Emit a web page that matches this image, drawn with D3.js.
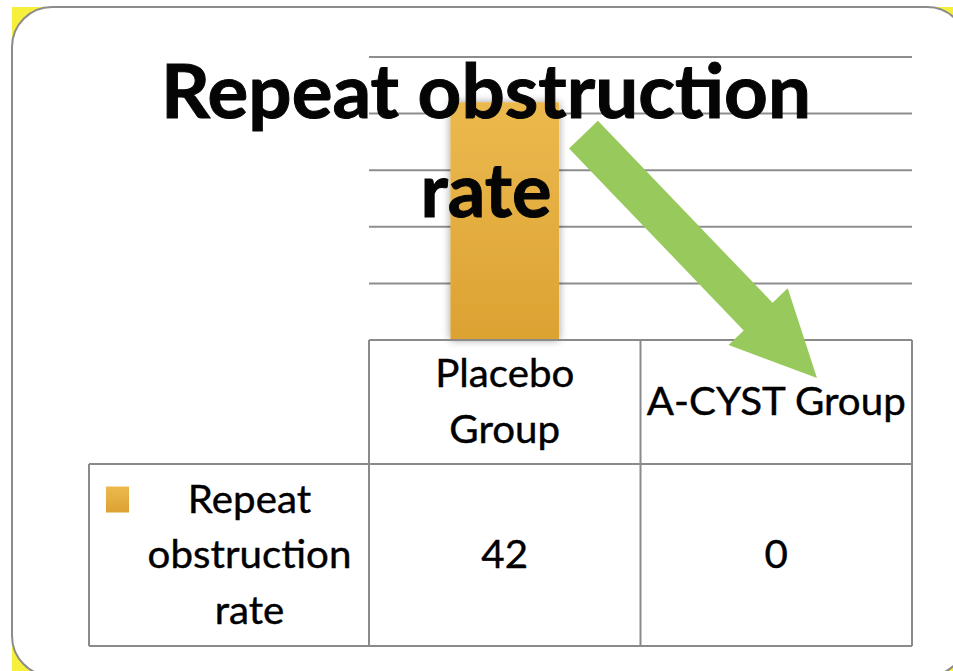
<!DOCTYPE html>
<html lang="en">
<head>
    <meta charset="UTF-8">
    <title>Repeat obstruction rate</title>
    <script src="https://d3js.org/d3.v7.min.js"></script>
    <style>
        body {
            margin: 0;
            padding: 0;
            background: #fff;
        }
        svg {
            display: block;
        }
        .grid line {
            stroke: #8e8e8e;
            stroke-width: 2px;
        }
        .table-line {
            stroke: #8a8a8a;
            stroke-width: 2px;
        }
        .cell-text {
            font-family: 'Lato', sans-serif;
            font-size: 38px;
            fill: #000;
            stroke: #000;
            stroke-width: 0.4px;
        }
        .title {
            font-family: 'Lato', sans-serif;
            font-weight: 700;
            font-size: 74px;
            fill: #050505;
            stroke: #050505;
            stroke-width: 1px;
        }
    </style>
</head>
<body>
    <svg width="953" height="671"></svg>
    <script>
        // chart data
        const titleLines = ["Repeat obstruction", "rate"];
        const categories = ["Placebo Group", "A-CYST Group"];
        const categoryLines = [["Placebo", "Group"], ["A-CYST Group"]];
        const seriesName = "Repeat obstruction rate";
        const seriesLines = ["Repeat", "obstruction", "rate"];
        const values = [42, 0];
        const yTicks = [0, 10, 20, 30, 40, 50];

        const width = 953, height = 671;
        const svg = d3.select("svg");
        const defs = svg.append("defs");

        // slide frame with yellow corners
        svg.append("rect")
            .attr("x", 12).attr("y", 7)
            .attr("width", 955).attr("height", 669)
            .attr("fill", "#f6ef3c");
        svg.append("rect")
            .attr("x", 12).attr("y", 7)
            .attr("width", 955).attr("height", 669)
            .attr("rx", 40).attr("ry", 40)
            .attr("fill", "#fff")
            .attr("stroke", "#8c8c8c")
            .attr("stroke-width", 2);

        // plot area (Excel-style chart with data table)
        const plot = { left: 369, right: 912, top: 57, bottom: 340 };
        const table = { left: 89, headerBottom: 464, bottom: 646 };

        const x = d3.scaleBand()
            .domain(categories)
            .range([plot.left, plot.right])
            .padding(0);

        const y = d3.scaleLinear()
            .domain([0, d3.max(yTicks)])
            .range([plot.bottom, plot.top]);

        // gridlines
        svg.append("g")
            .attr("class", "grid")
            .selectAll("line")
            .data(yTicks.filter(t => t > 0))
            .join("line")
            .attr("x1", plot.left)
            .attr("x2", plot.right)
            .attr("y1", d => y(d))
            .attr("y2", d => y(d));

        // bar gradient and shadow
        const grad = defs.append("linearGradient")
            .attr("id", "barGrad")
            .attr("x1", 0).attr("y1", 0).attr("x2", 0).attr("y2", 1);
        grad.append("stop").attr("offset", "0%").attr("stop-color", "#ecb94e");
        grad.append("stop").attr("offset", "100%").attr("stop-color", "#dca232");

        const shadow = defs.append("filter")
            .attr("id", "barShadow")
            .attr("x", "-30%").attr("y", "-10%")
            .attr("width", "160%").attr("height", "120%");
        shadow.append("feGaussianBlur")
            .attr("in", "SourceAlpha")
            .attr("stdDeviation", 4)
            .attr("result", "blur");
        shadow.append("feComponentTransfer")
            .append("feFuncA").attr("type", "linear").attr("slope", 0.4);
        const merge = shadow.append("feMerge");
        merge.append("feMergeNode");
        merge.append("feMergeNode").attr("in", "SourceGraphic");

        const barW = x.bandwidth() * 0.4;
        svg.append("g")
            .selectAll("rect")
            .data(values)
            .join("rect")
            .attr("x", (d, i) => x(categories[i]) + (x.bandwidth() - barW) / 2)
            .attr("y", d => y(d))
            .attr("width", barW)
            .attr("height", d => y(0) - y(d))
            .attr("fill", "url(#barGrad)")
            .attr("filter", d => d > 0 ? "url(#barShadow)" : null);

        // data table
        const tl = svg.append("g");
        const hline = (x1, x2, yy) => tl.append("line").attr("class", "table-line")
            .attr("x1", x1).attr("x2", x2).attr("y1", yy).attr("y2", yy);
        const vline = (xx, y1, y2) => tl.append("line").attr("class", "table-line")
            .attr("x1", xx).attr("x2", xx).attr("y1", y1).attr("y2", y2);

        hline(plot.left, plot.right, plot.bottom);
        hline(table.left, plot.right, table.headerBottom);
        hline(table.left, plot.right, table.bottom);
        vline(table.left, table.headerBottom, table.bottom);
        categories.forEach(c => vline(x(c), plot.bottom, table.bottom));
        vline(plot.right, plot.bottom, table.bottom);

        // green annotation arrow, placed from the placebo band down into the A-CYST header
        const arrowStart = [x(categories[0]) + x.bandwidth() * 0.79, y(36.3)];
        const arrowTip = [x(categories[1]) + x.bandwidth() * 0.65, y(0) + 38];
        const dx = arrowTip[0] - arrowStart[0], dy = arrowTip[1] - arrowStart[1];
        const len = Math.hypot(dx, dy);
        const ang = Math.atan2(dy, dx) * 180 / Math.PI;
        const shaftHalf = 20, headHalf = 41, headLen = 85;
        const arrowPts = [
            [0, -shaftHalf], [len - headLen, -shaftHalf], [len - headLen, -headHalf],
            [len, 0],
            [len - headLen, headHalf], [len - headLen, shaftHalf], [0, shaftHalf]
        ];
        svg.append("path")
            .attr("transform", `translate(${arrowStart[0]},${arrowStart[1]}) rotate(${ang})`)
            .attr("d", d3.line()(arrowPts) + "Z")
            .attr("fill", "#98c95c");

        // table text, slightly stretched like the source rendering
        const stretch = 1.06;
        function addText(str, cx, baseline, cls) {
            const t = svg.append("text")
                .attr("class", cls)
                .attr("x", cx)
                .attr("y", baseline)
                .attr("text-anchor", "middle")
                .text(str);
            return t;
        }
        function stretchText(t, k) {
            const w = t.node().getComputedTextLength();
            t.attr("textLength", w * k).attr("lengthAdjust", "spacingAndGlyphs");
        }

        const lineGap = 56, capHalf = 13;
        const headerMid = (plot.bottom + table.headerBottom) / 2;
        const rowMid = (table.headerBottom + table.bottom) / 2;

        categoryLines.forEach((lines, i) => {
            const cx = x(categories[i]) + x.bandwidth() / 2;
            lines.forEach((ln, j) => {
                const cy = headerMid + (j - (lines.length - 1) / 2) * lineGap;
                stretchText(addText(ln, cx, cy + capHalf, "cell-text"), stretch);
            });
        });

        values.forEach((v, i) => {
            const cx = x(categories[i]) + x.bandwidth() / 2;
            stretchText(addText(String(v), cx, rowMid + capHalf, "cell-text"), stretch);
        });

        // row header with legend key
        const keyX = table.left + 17, keySize = 24;
        const labelCx = (keyX + keySize + plot.left) / 2;
        seriesLines.forEach((ln, j) => {
            const cy = rowMid + (j - (seriesLines.length - 1) / 2) * 55.5;
            stretchText(addText(ln, labelCx, cy + capHalf, "cell-text"), stretch);
        });
        svg.append("rect")
            .attr("x", keyX)
            .attr("y", rowMid - 55.5 - keySize / 2 - 1)
            .attr("width", keySize - 1)
            .attr("height", keySize + 2)
            .attr("fill", "url(#barGrad)")
            .append("title").text(seriesName);

        // title over the plot
        const titleCx = 486;
        titleLines.forEach((ln, j) => {
            const t = addText(ln, titleCx, 118 + j * 99, "title");
            if (j === 0) t.attr("textLength", 650).attr("lengthAdjust", "spacingAndGlyphs");
        });
    </script>
</body>
</html>
